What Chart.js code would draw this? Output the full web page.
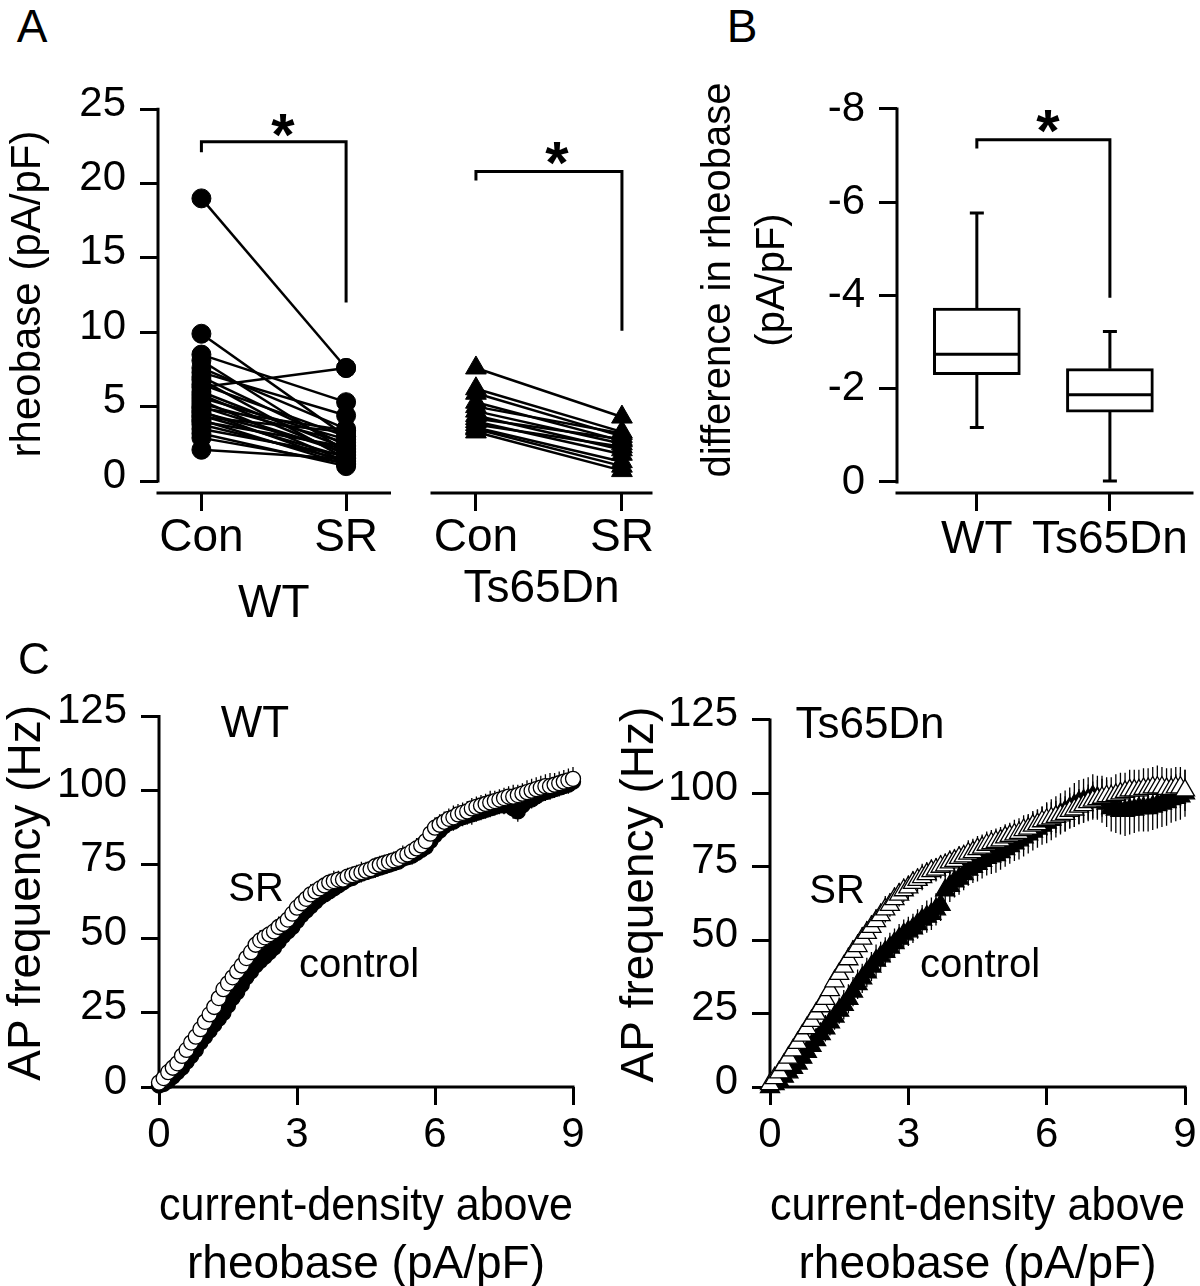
<!doctype html>
<html>
<head>
<meta charset="utf-8">
<script src="https://cdn.jsdelivr.net/npm/chart.js@4.4.1/dist/chart.umd.min.js"></script>
<style>
	html, body { margin: 0; padding: 0; background: #fff; overflow: hidden; }
	#page { position: relative; width: 1200px; height: 1286px; overflow: hidden; font-family: 'Liberation Sans', Arial, sans-serif; color: #000; }
	canvas { position: absolute; }
	.lbl { position: absolute; line-height: 1; white-space: nowrap; transform: translateX(-50%); }
</style>
</head>
<body>
<div id="page">
	<canvas id="aWT" width="400" height="590" style="left:0px;top:60px"></canvas>
	<canvas id="aTs" width="260" height="590" style="left:410px;top:60px"></canvas>
	<canvas id="bBox" width="510" height="590" style="left:690px;top:60px"></canvas>
	<canvas id="cWT" width="610" height="606" style="left:0px;top:690px"></canvas>
	<canvas id="cTs" width="590" height="606" style="left:610px;top:690px"></canvas>

	<div class="lbl" style="left:32px;top:3px;font-size:46px">A</div>
	<div class="lbl" style="left:742px;top:3px;font-size:46px">B</div>
	<div class="lbl" style="left:34px;top:637px;font-size:44px">C</div>

	<div class="lbl" style="left:283px;top:105px;font-size:60px;font-weight:bold">*</div>
	<div class="lbl" style="left:557px;top:133px;font-size:60px;font-weight:bold">*</div>
	<div class="lbl" style="left:1048px;top:101px;font-size:60px;font-weight:bold">*</div>

	<div class="lbl" style="left:255px;top:700px;font-size:44px">WT</div>
	<div class="lbl" style="left:256px;top:867px;font-size:40px">SR</div>
	<div class="lbl" style="left:359px;top:943px;font-size:40px">control</div>
	<div class="lbl" style="left:870px;top:701px;font-size:44px">Ts65Dn</div>
	<div class="lbl" style="left:837px;top:869px;font-size:40px">SR</div>
	<div class="lbl" style="left:980px;top:943px;font-size:40px">control</div>
</div>

<script>
	// ---- panel A: paired rheobase values (pA/pF)
	var aCats = ['Con', 'SR'];
	var aYTicks = [0, 5, 10, 15, 20, 25];
	var wtCon = [19.0, 9.9, 8.5, 8.1, 7.6, 7.3, 7.0, 6.8, 6.5, 6.3, 6.0, 5.8, 5.6, 5.4, 5.2, 5.0, 4.9, 4.7, 4.6, 4.4, 4.3, 4.1, 4.0, 3.8, 3.5, 3.2, 2.9, 2.1];
	var wtSR = [7.6, 3.0, 5.3, 2.0, 3.5, 4.4, 2.4, 1.5, 3.0, 7.6, 2.2, 1.8, 2.8, 1.3, 2.6, 1.9, 3.4, 1.2, 2.1, 1.6, 3.3, 1.1, 2.3, 1.4, 1.7, 1.0, 1.2, 1.5];
	var tsCon = [7.6, 6.2, 5.9, 5.3, 5.0, 4.7, 4.4, 4.2, 4.0, 3.8, 3.6, 3.5, 3.3];
	var tsSR = [4.3, 3.3, 3.0, 2.7, 3.2, 2.5, 2.1, 2.8, 1.8, 2.3, 1.3, 1.0, 0.7];
	var sigWT = [22.8, 22.1, 12.0];   // bracket top, left end, right end
	var sigTs = [20.8, 20.2, 10.1];

	// ---- panel B: difference in rheobase, box summary
	var boxCats = ['WT', 'Ts65Dn'];
	var bYTicks = [-8, -6, -4, -2, 0];
	var boxMin = [-1.17, -0.02];
	var boxQ1 = [-2.30, -1.50];
	var boxMed = [-2.74, -1.87];
	var boxQ3 = [-3.73, -2.43];
	var boxMax = [-5.77, -3.23];
	var sigB = [-7.34, -7.15, -3.95];

	// ---- panel C: AP frequency (Hz) vs current density above rheobase
	var cXTicks = [0, 3, 6, 9];
	var cYTicks = [0, 25, 50, 75, 100, 125];
	var cx = [0, 0.1, 0.2, 0.3, 0.4, 0.5, 0.6, 0.7, 0.8, 0.9,
		1.0, 1.1, 1.2, 1.3, 1.4, 1.5, 1.6, 1.7, 1.8, 1.9,
		2.0, 2.1, 2.2, 2.3, 2.4, 2.5, 2.6, 2.7, 2.8, 2.9,
		3.0, 3.1, 3.2, 3.3, 3.4, 3.5, 3.6, 3.7, 3.8, 3.9,
		4.0, 4.1, 4.2, 4.3, 4.4, 4.5, 4.6, 4.7, 4.8, 4.9,
		5.0, 5.1, 5.2, 5.3, 5.4, 5.5, 5.6, 5.7, 5.8, 5.9,
		6.0, 6.1, 6.2, 6.3, 6.4, 6.5, 6.6, 6.7, 6.8, 6.9,
		7.0, 7.1, 7.2, 7.3, 7.4, 7.5, 7.6, 7.7, 7.8, 7.9,
		8.0, 8.1, 8.2, 8.3, 8.4, 8.5, 8.6, 8.7, 8.8, 8.9,
		9.0];
	var wtSRf = [1.5, 3, 5, 6.5, 8, 10.5, 12.5, 15, 17, 19.5,
		22, 24.5, 27, 30, 33, 35, 37, 39, 41, 43.5,
		45.5, 48, 49.5, 50.5, 51.5, 52.5, 54, 55, 56.5, 58.5,
		60.5, 62, 63.5, 65, 66, 67, 68, 69, 69.5, 70,
		70, 71, 71.5, 72, 72.5, 73, 73.5, 74.5, 75, 75.5,
		76, 76.5, 77, 78, 78.5, 79.5, 80.5, 81.5, 83, 85.5,
		87.5, 88.5, 89.5, 90.5, 91, 92, 92.5, 93, 94, 94.5,
		95, 95.5, 96, 96.5, 97, 97.5, 98, 98, 98.5, 99,
		99.5, 100, 100.5, 101, 101.5, 101.5, 102, 102.5, 103, 103.5,
		104];
	var wtSRerr = [0.5, 0.5, 1, 1, 1.5, 1.5, 1.5, 2, 2, 2,
		2, 2.5, 2.5, 2.5, 2.5, 2.5, 2.5, 3, 3, 3,
		3, 3, 3.5, 3, 3, 3, 3.5, 3, 3, 3,
		3, 3, 3, 3.5, 3, 3, 3, 3, 3.5, 3,
		3, 3, 3, 3, 3.5, 3, 3, 3, 3, 3,
		3, 3, 3, 3.5, 3, 3, 3.5, 3.5, 3.5, 3.5,
		3.5, 3.5, 3.5, 3.5, 4, 3.5, 3.5, 3.5, 3.5, 3.5,
		3.5, 3.5, 4, 3.5, 3.5, 3.5, 3.5, 4, 3.5, 3.5,
		4, 4, 4, 4, 4, 4.5, 4, 4, 4, 4,
		4];
	var wtCtlf = [0.5, 1, 2, 3.5, 5, 6.5, 8.5, 10.5, 12.5, 15,
		17, 19, 21, 23, 25, 27.5, 30, 32, 34.5, 37,
		39, 41, 42.5, 44, 45.5, 47, 49, 51, 52.5, 54,
		56, 58, 59.5, 61, 62.5, 64, 65, 66, 67, 68,
		69, 70, 70.5, 71.5, 72, 72.5, 73, 73.5, 74, 74.5,
		75, 75.5, 76, 77, 77.5, 78, 79, 80, 81, 83,
		85, 86.5, 88, 89, 89.5, 90.5, 91, 91.5, 92, 92.5,
		93, 93.5, 94, 94.5, 95, 95, 95.5, 94, 93, 95,
		96.5, 97, 98, 99, 99.5, 100, 100.5, 101, 101.5, 102,
		103];
	var wtCtlerr = [0.5, 0.5, 1, 1, 1, 1.5, 1.5, 1.5, 1.5, 2,
		2, 2, 2, 2, 2, 2.5, 2.5, 2.5, 2.5, 2.5,
		2.5, 2.5, 2.5, 3, 2.5, 2.5, 2.5, 2.5, 2.5, 2.5,
		2.5, 2.5, 2.5, 2.5, 2.5, 3, 2.5, 2.5, 2.5, 2.5,
		2.5, 2.5, 2.5, 2.5, 2.5, 2.5, 2.5, 3, 2.5, 2.5,
		2.5, 2.5, 2.5, 2.5, 2.5, 3, 3, 3, 3, 3,
		3, 3, 3, 3, 3, 3, 3, 3, 3.5, 3,
		3, 3, 3, 3, 3, 3, 3, 3.5, 3.5, 3,
		3, 3, 3, 3, 3, 3, 3, 3, 3, 3,
		3];
	var tsSRf = [1, 3, 5, 7.5, 10, 12.5, 15, 17.5, 20, 22.5,
		25, 27.5, 30, 33, 36, 38.5, 41, 43.5, 46, 48,
		50.5, 52.5, 54.5, 56.5, 58.5, 60.5, 62, 64, 65.5, 67,
		68, 69.5, 70.5, 71.5, 72.5, 73.5, 74, 75, 75.5, 76.5,
		77, 78, 78.5, 79.5, 80, 81, 81.5, 82.5, 83, 83.5,
		84, 85, 85.5, 86, 86.5, 87.5, 88, 89, 89.5, 90.5,
		91, 91.5, 92, 92.5, 93, 94, 94.5, 95.5, 96, 97,
		97.5, 98, 98.5, 99, 99, 99.5, 100, 100.5, 101, 101,
		101, 101.5, 101.5, 102, 102, 102, 101.5, 101.5, 102, 102,
		101];
	var tsSRerr = [1, 1.5, 2, 2, 2.5, 2.5, 3, 3, 3, 3,
		3, 3.5, 3.5, 3.5, 3.5, 3.5, 3.5, 4, 4, 4,
		4, 4, 4, 4, 4, 4.5, 4, 4, 4, 4,
		4, 4, 4, 4.5, 4, 4, 4, 4, 4, 4,
		4, 4, 4, 4.5, 4.5, 4.5, 4.5, 4.5, 4.5, 4.5,
		4.5, 4.5, 4.5, 5, 5, 5, 5, 5, 5, 5,
		5.5, 5.5, 5.5, 6, 6, 6, 6, 6, 6, 6,
		6.5, 6.5, 6.5, 6.5, 6.5, 7, 7, 6.5, 7, 7,
		7, 7, 7, 7, 7.5, 7, 7, 7, 7, 7,
		7];
	var tsCtlf = [0, 1, 2, 3.5, 5, 6.5, 8, 10, 12, 14,
		16, 18, 20, 22, 24, 26, 28, 30, 32.5, 35,
		37, 39, 41, 43, 44.5, 46, 47.5, 49, 50.5, 52,
		53, 54, 55.5, 57, 58, 59, 60.5, 62, 67, 68.5,
		70, 71, 72.5, 74, 75, 76, 77, 78, 78.5, 79,
		80, 81, 82, 83, 84, 85, 86, 87, 88, 89,
		90, 91, 92, 93, 94, 95, 96, 97, 97.5, 98,
		99, 98.5, 98, 96.5, 95, 94.5, 94, 94, 94.5, 94.5,
		95, 95, 95, 95.5, 96, 96.5, 97, 98, 98.5, 99,
		100];
	var tsCtlerr = [1, 1.5, 2, 2.5, 3, 3, 3, 3.5, 4, 4,
		4, 4, 4.5, 4.5, 4.5, 4.5, 5, 5, 5, 5,
		5, 5, 5, 5.5, 5, 5, 5, 5, 5, 5,
		5, 5, 5, 5, 5.5, 5.5, 5.5, 5.5, 5.5, 5.5,
		5.5, 5.5, 5.5, 5.5, 5.5, 6, 6, 6, 6, 6,
		6, 6, 6, 6, 6.5, 6.5, 6.5, 6.5, 6.5, 6.5,
		7, 7, 7, 7, 7, 7, 7.5, 7.5, 7.5, 7.5,
		7.5, 7.5, 8, 8, 8, 8, 8, 8.5, 8.5, 8,
		8, 8, 8, 8, 8, 8, 8, 8, 8, 8,
		8];

	Chart.defaults.font.family = "'Liberation Sans', Arial, sans-serif";
	Chart.defaults.font.size = 42;
	Chart.defaults.color = '#000';
	Chart.defaults.animation = false;
	Chart.defaults.plugins.legend.display = false;
	Chart.defaults.plugins.tooltip.enabled = false;

	// axis lines drawn by hand so the y axis can stop at its last tick
	var axisLines = {
		id: 'axisLines',
		beforeDatasetsDraw: function (chart, args, o) {
			var ctx = chart.ctx, a = chart.chartArea, ys = chart.scales.y;
			ctx.save();
			ctx.strokeStyle = '#000';
			ctx.lineWidth = 3;
			ctx.lineCap = 'square';
			ctx.beginPath();
			if (o.yFrom !== undefined) {
				ctx.moveTo(a.left, ys.getPixelForValue(o.yFrom));
				ctx.lineTo(a.left, ys.getPixelForValue(o.yTo));
			}
			ctx.moveTo(a.left, a.bottom);
			ctx.lineTo(a.right, a.bottom);
			ctx.stroke();
			ctx.restore();
		}
	};

	var brackets = {
		id: 'brackets',
		afterDatasetsDraw: function (chart, args, o) {
			if (!o.y) return;
			var ctx = chart.ctx, xs = chart.scales.x, ys = chart.scales.y;
			var x1 = xs.getPixelForValue(0), x2 = xs.getPixelForValue(1);
			ctx.save();
			ctx.strokeStyle = '#000';
			ctx.lineWidth = 3;
			ctx.beginPath();
			ctx.moveTo(x1, ys.getPixelForValue(o.y[1]));
			ctx.lineTo(x1, ys.getPixelForValue(o.y[0]));
			ctx.lineTo(x2, ys.getPixelForValue(o.y[0]));
			ctx.lineTo(x2, ys.getPixelForValue(o.y[2]));
			ctx.stroke();
			ctx.restore();
		}
	};

	var errorBars = {
		id: 'errorBars',
		beforeDatasetsDraw: function (chart) {
			var ctx = chart.ctx, xs = chart.scales.x, ys = chart.scales.y;
			ctx.save();
			ctx.strokeStyle = '#000';
			ctx.lineWidth = 1.3;
			chart.data.datasets.forEach(function (ds) {
				if (!ds.errors) return;
				ctx.beginPath();
				ds.data.forEach(function (p, i) {
					var x = xs.getPixelForValue(p.x);
					ctx.moveTo(x, ys.getPixelForValue(p.y - ds.errors[i]));
					ctx.lineTo(x, ys.getPixelForValue(p.y + ds.errors[i]));
				});
				ctx.stroke();
			});
			ctx.restore();
		}
	};

	var boxParts = {
		id: 'boxParts',
		afterDatasetsDraw: function (chart, args, o) {
			if (!o.med) return;
			var ctx = chart.ctx, xs = chart.scales.x, ys = chart.scales.y;
			ctx.save();
			ctx.strokeStyle = '#000';
			ctx.lineWidth = 3;
			ctx.beginPath();
			o.med.forEach(function (m, i) {
				var x = xs.getPixelForValue(i), hw = o.width / 2 - 1.5;
				ctx.moveTo(x - hw, ys.getPixelForValue(m));
				ctx.lineTo(x + hw, ys.getPixelForValue(m));
				ctx.moveTo(x, ys.getPixelForValue(o.q3[i]));
				ctx.lineTo(x, ys.getPixelForValue(o.max[i]));
				ctx.moveTo(x, ys.getPixelForValue(o.q1[i]));
				ctx.lineTo(x, ys.getPixelForValue(o.min[i]));
				ctx.moveTo(x - 7, ys.getPixelForValue(o.max[i]));
				ctx.lineTo(x + 7, ys.getPixelForValue(o.max[i]));
				ctx.moveTo(x - 7, ys.getPixelForValue(o.min[i]));
				ctx.lineTo(x + 7, ys.getPixelForValue(o.min[i]));
			});
			ctx.stroke();
			ctx.restore();
		}
	};

	function tickList(list) {
		return function (s) { s.ticks = list.map(function (v) { return { value: v }; }); };
	}

	function yScale(min, max, ticks, width, title, size, lh, titlePad, labelOffset, reverse) {
		return {
			type: 'linear', min: min, max: max, reverse: !!reverse,
			afterBuildTicks: tickList(ticks),
			afterFit: function (s) { s.width = width; s.paddingTop = 0; s.paddingBottom = 0; },
			border: { display: false },
			grid: { drawOnChartArea: false, tickLength: 18, lineWidth: 3, color: '#000' },
			ticks: { padding: 14, labelOffset: labelOffset, autoSkip: false },
			title: { display: true, text: title, font: { size: size, lineHeight: lh }, padding: { top: titlePad, bottom: 0 } }
		};
	}

	function xScale(min, max, ticks, labels, tickSize, height, pad, title, lh, titlePad) {
		return {
			type: 'linear', min: min, max: max, offset: false,
			afterBuildTicks: tickList(ticks),
			afterFit: function (s) { s.height = height; s.paddingLeft = 0; s.paddingRight = 0; },
			border: { display: false },
			grid: { drawOnChartArea: false, tickLength: 18, lineWidth: 3, color: '#000', offset: false },
			ticks: {
				padding: pad, autoSkip: false, maxRotation: 0, font: { size: tickSize },
				callback: function (v) { return labels ? labels[v] : String(v); }
			},
			title: title ? { display: true, text: title, font: { size: 46, lineHeight: lh }, padding: { top: 0, bottom: titlePad } } : { display: false }
		};
	}

	function pairSets(con, sr, style, radius) {
		return con.map(function (c, i) {
			return {
				data: [{ x: 0, y: c }, { x: 1, y: sr[i] }],
				showLine: true, borderColor: '#000', borderWidth: 2.5,
				pointStyle: style, pointRadius: radius, pointBackgroundColor: '#000', pointBorderColor: '#000', pointBorderWidth: 1,
				clip: false
			};
		});
	}

	function curve(ys, errs, style, radius, fill) {
		return {
			data: cx.map(function (x, i) { return { x: x, y: ys[i] }; }),
			errors: errs,
			pointStyle: style, pointRadius: radius, pointBackgroundColor: fill, pointBorderColor: '#000', pointBorderWidth: 1.3,
			clip: false
		};
	}

	// A, WT
	new Chart(document.getElementById('aWT'), {
		type: 'scatter',
		data: { datasets: pairSets(wtCon, wtSR, 'circle', 9.5) },
		options: {
			responsive: false,
			layout: { padding: { top: 35, left: 0, right: 7, bottom: 0 } },
			scales: {
				x: xScale(-0.3, 1.3, [0, 1], aCats, 46, 157, 0, 'WT', 1.2, 18),
				y: yScale(-0.806, 25.95, aYTicks, 158, 'rheobase (pA/pF)', 42, 1.2, 3, -5)
			},
			plugins: { axisLines: { yFrom: 0, yTo: 25 }, brackets: { y: sigWT } }
		},
		plugins: [axisLines, brackets]
	});

	// A, Ts65Dn
	var yHidden = { type: 'linear', min: -0.806, max: 25.95, display: false };
	new Chart(document.getElementById('aTs'), {
		type: 'scatter',
		data: { datasets: pairSets(tsCon, tsSR, 'triangle', 12) },
		options: {
			responsive: false,
			layout: { padding: { top: 35, left: 22, right: 19, bottom: 0 } },
			scales: {
				x: xScale(-0.301, 1.199, [0, 1], aCats, 46, 157, 0, 'Ts65Dn', 1.2, 33),
				y: yHidden
			},
			plugins: { axisLines: {}, brackets: { y: sigTs } }
		},
		plugins: [axisLines, brackets]
	});

	// B, box plot
	new Chart(document.getElementById('bBox'), {
		type: 'bar',
		data: {
			datasets: [{
				data: boxCats.map(function (c, i) { return { x: i, y: [boxQ1[i], boxQ3[i]] }; }),
				backgroundColor: '#fff', borderColor: '#000', borderWidth: 3, borderSkipped: false,
				barThickness: 87
			}]
		},
		options: {
			responsive: false,
			layout: { padding: { top: 7, left: 0, right: 8, bottom: 0 } },
			scales: {
				x: xScale(-0.6, 1.617, [0, 1], boxCats, 46, 157, 2, null),
				y: yScale(-8.9, 0.236, bYTicks, 207, ['difference in rheobase', '(pA/pF)'], 40, 1.35, 2, 0, true)
			},
			plugins: {
				axisLines: { yFrom: 0, yTo: -8 },
				brackets: { y: sigB },
				boxParts: { min: boxMin, q1: boxQ1, med: boxMed, q3: boxQ3, max: boxMax, width: 87 }
			}
		},
		plugins: [axisLines, brackets, boxParts]
	});

	// C, WT
	new Chart(document.getElementById('cWT'), {
		type: 'scatter',
		data: {
			datasets: [
				curve(wtSRf, wtSRerr, 'circle', 7.5, '#fff'),
				curve(wtCtlf, wtCtlerr, 'circle', 7.5, '#000')
			]
		},
		options: {
			responsive: false,
			layout: { padding: { top: 7, left: 0, right: 37, bottom: 0 } },
			scales: {
				x: xScale(0, 9, cXTicks, null, 42, 209, 5, ['current-density above', 'rheobase (pA/pF)'], 1.261, 2),
				y: yScale(0, 131, cYTicks, 159, 'AP frequency (Hz)', 46, 1.2, 0, -5)
			},
			plugins: { axisLines: { yFrom: 0, yTo: 125 } }
		},
		plugins: [axisLines, errorBars]
	});

	// C, Ts65Dn
	new Chart(document.getElementById('cTs'), {
		type: 'scatter',
		data: {
			datasets: [
				curve(tsSRf, tsSRerr, 'triangle', 11, '#fff'),
				curve(tsCtlf, tsCtlerr, 'triangle', 11, '#000')
			]
		},
		options: {
			responsive: false,
			layout: { padding: { top: 7, left: 0, right: 15, bottom: 0 } },
			scales: {
				x: xScale(0, 9, cXTicks, null, 42, 209, 5, ['current-density above', 'rheobase (pA/pF)'], 1.261, 2),
				y: yScale(0, 131, cYTicks, 160, 'AP frequency (Hz)', 46, 1.2, 3, -5)
			},
			plugins: { axisLines: { yFrom: 0, yTo: 125 } }
		},
		plugins: [axisLines, errorBars]
	});
</script>
</body>
</html>
